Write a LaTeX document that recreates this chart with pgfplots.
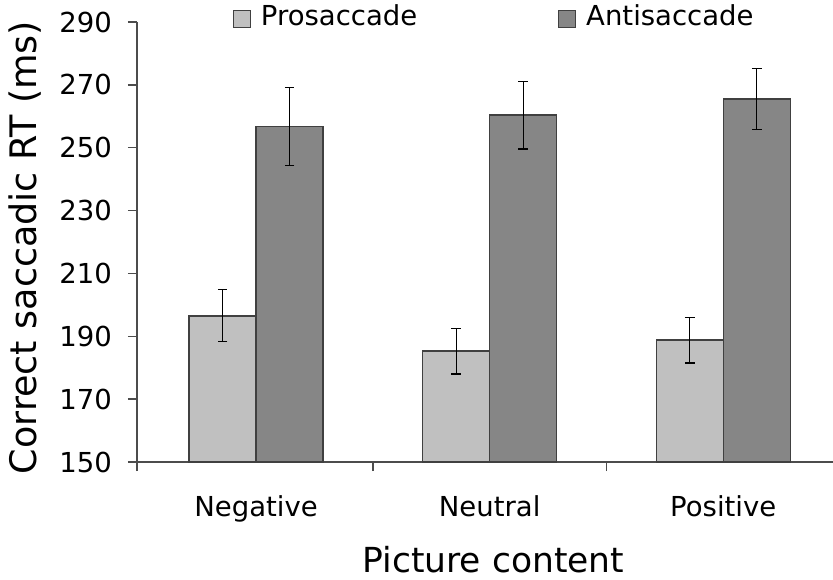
\documentclass[border=0pt]{standalone}
\usepackage{fontspec}
\setmainfont{DejaVu Sans}
\usepackage{pgfplots}
\pgfplotsset{compat=1.18}
\definecolor{pro}{HTML}{C0C0C0}
\definecolor{anti}{HTML}{868686}
\definecolor{edge}{HTML}{404040}
\begin{document}
\begin{tikzpicture}
\begin{axis}[
  at={(0,0)}, anchor=south west,
  scale only axis, width=696pt, height=440pt,
  axis lines=left,
  axis line style={-, line width=1.3pt, draw=black!70},
  xmin=-0.51, xmax=2.47, ymin=150, ymax=290,
  ytick={150,170,...,290},
  xtick={-0.51,0.5,1.5}, xticklabels={},
  extra x ticks={0,1,2},
  extra x tick labels={Negative,Neutral,Positive},
  extra x tick style={major tick length=0pt},
  tick align=outside, major tick length=9pt,
  tick style={line width=1.3pt, draw=black!70},
  /pgf/number format/assume math mode=true,
  ticklabel style={font=\fontsize{27.5}{33}\selectfont},
  yticklabel style={anchor=east, inner sep=0pt, xshift=-16pt},
  xticklabel style={anchor=base, inner sep=0pt, yshift=-54pt},
  xlabel={Picture content},
  ylabel={Correct saccadic RT (ms)},
  xlabel style={font=\fontsize{34.5}{40}\selectfont, at={(axis description cs:0.512,0)}, anchor=base, yshift=-110pt, inner sep=0pt},
  ylabel style={font=\fontsize{36.5}{42}\selectfont, at={(axis description cs:-0.1451,0.4875)}, anchor=base, rotate=0, inner sep=0pt},
  ybar=0pt, bar width=67pt,
  legend columns=2,
  legend image code/.code={\draw[#1, line width=1pt] (0pt,-12pt) rectangle (17pt,5pt);},
  legend style={draw=none, fill=none, inner sep=0pt, outer sep=0pt,
    font=\fontsize{27.5}{33}\selectfont,
    nodes={inner sep=0pt},
    at={(rel axis cs:0.1379,0.9864)}, anchor=south west,
    /tikz/every odd column/.append style={column sep=10pt},
    /tikz/every even column/.append style={column sep=141pt}},
  error bars/error bar style={line width=1.1pt, black},
  error bars/error mark options={rotate=90, mark size=4.8pt, line width=1.1pt, black},
]
\addplot[fill=pro, draw=edge, line width=1.3pt,
  error bars/.cd, y dir=both, y explicit]
  coordinates {(0,196.5) +- (0,8.3) (1,185.3) +- (0,7.3) (2,188.8) +- (0,7.3)};
\addplot[fill=anti, draw=edge, line width=1.3pt,
  error bars/.cd, y dir=both, y explicit]
  coordinates {(0,256.8) +- (0,12.5) (1,260.4) +- (0,10.8) (2,265.5) +- (0,9.8)};
\legend{Prosaccade,Antisaccade}
\end{axis}
\pgfresetboundingbox
\path (-137pt,-117pt) rectangle (696pt,462pt);
\end{tikzpicture}
\end{document}
